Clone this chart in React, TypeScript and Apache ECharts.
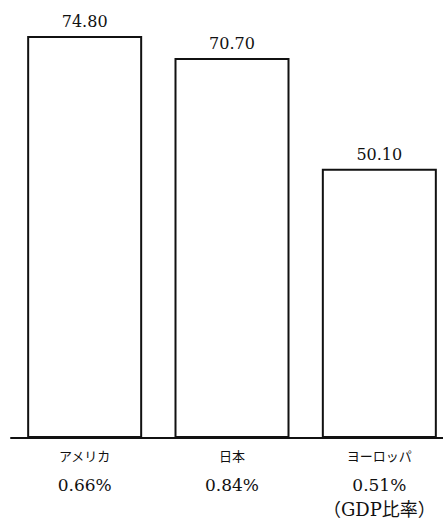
import React, { useEffect, useRef } from "react";
import * as echarts from "echarts";

const regions = ["アメリカ", "日本", "ヨーロッパ"];
const amounts = [74.8, 70.7, 50.1];
const gdpShares = ["0.66%", "0.84%", "0.51%"];
const shareNote = "（GDP比率）";

const SERIF = "'DejaVu Serif', 'Noto Sans CJK JP', serif";

export default function App() {
  const ref = useRef<HTMLDivElement>(null);

  useEffect(() => {
    if (!ref.current) return;
    const chart = echarts.init(ref.current, null, { renderer: "svg" });
    const lastIdx = regions.length - 1;
    chart.setOption({
      animation: false,
      backgroundColor: "#ffffff",
      grid: { left: 11, right: 3, top: 8, height: 430, containLabel: false },
      xAxis: {
        type: "category",
        data: regions,
        axisLine: { show: true, lineStyle: { color: "#111", width: 2 } },
        axisTick: { show: false },
        splitLine: { show: false },
        axisLabel: {
          interval: 0,
          margin: 3,
          formatter: (value: string, idx: number) => {
            let s = `{a|${value}}\n{b|${gdpShares[idx]}}`;
            if (idx === lastIdx) s += `\n{c|${shareNote}}`;
            return s;
          },
          rich: {
            a: {
              fontFamily: "'Noto Sans CJK JP', sans-serif",
              fontSize: 13,
              color: "#111",
              lineHeight: 28,
            },
            b: {
              fontFamily: SERIF,
              fontSize: 17,
              color: "#111",
              lineHeight: 32,
            },
            c: {
              fontFamily: SERIF,
              fontSize: 18,
              color: "#111",
              lineHeight: 16,
            },
          },
        },
      },
      yAxis: {
        type: "value",
        min: 0,
        max: 80,
        show: false,
        splitLine: { show: false },
      },
      series: [
        {
          type: "bar",
          data: amounts,
          barWidth: 115,
          itemStyle: {
            color: "#ffffff",
            borderColor: "#111",
            borderWidth: 2,
          },
          label: {
            show: true,
            position: "top",
            distance: 6,
            formatter: (p: any) => Number(p.value).toFixed(2),
            fontFamily: SERIF,
            fontSize: 16,
            color: "#111",
          },
        },
      ],
    });
    return () => chart.dispose();
  }, []);

  return (
    <div
      style={{
        position: "fixed",
        top: 0,
        left: 0,
        width: 443,
        height: 520,
        overflow: "hidden",
        background: "#fff",
      }}
    >
      <div ref={ref} style={{ width: 456, height: 520 }} />
    </div>
  );
}
